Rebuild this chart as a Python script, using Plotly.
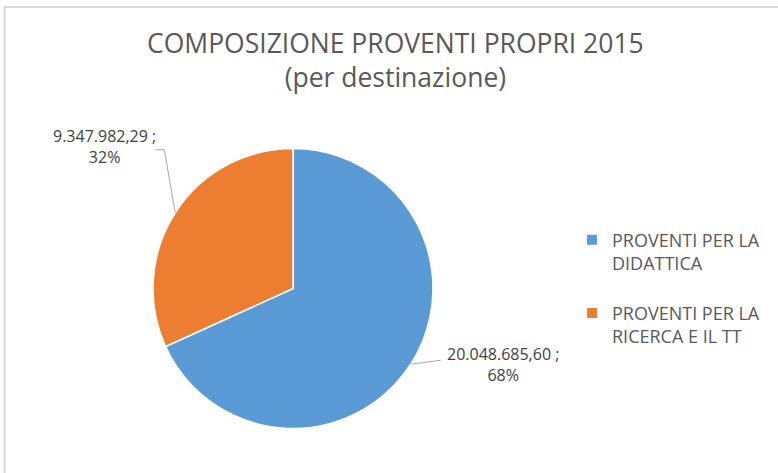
import math
import plotly.graph_objects as go

# ---- data ----
categories = ["PROVENTI PER LA<br>DIDATTICA", "PROVENTI PER LA<br>RICERCA E IL TT"]
values = [20048685.60, 9347982.29]
value_labels = ["20.048.685,60", "9.347.982,29"]
colors = ["#5B9BD5", "#ED7D31"]
title_lines = ["COMPOSIZIONE PROVENTI PROPRI 2015", "(per destinazione)"]

W, H = 778, 473
TXT = "#595959"
FONT = "Open Sans"

# pie geometry (pixels)
cx, cy, r = 293, 288.5, 140

def px(x):
    return x / W

def py(y):
    return 1 - y / H

fig = go.Figure()
fig.add_trace(go.Pie(
    labels=[c + "<br> " for c in categories],
    values=values,
    sort=False,
    direction="clockwise",
    rotation=0,
    marker=dict(colors=colors, line=dict(color="white", width=1.5)),
    textinfo="none",
    hoverinfo="label+value+percent",
    domain=dict(x=[px(cx - r), px(cx + r)], y=[py(cy + r), py(cy - r)]),
    showlegend=True,
))

total = sum(values)
pcts = [round(v / total * 100) for v in values]

# label placement offsets (elbow, end) relative to slice-edge anchor, and text side
offsets = [
    dict(elbow=(30, -4), end=(30, -4), tx=4, ty=4.5, anchor="left"),
    dict(elbow=(-11, -63), end=(-20, -63), tx=3, ty=-3, anchor="right"),
]

shapes = []
annotations = []
cum = 0
for i, v in enumerate(values):
    mid = (cum + v / 2) / total * 2 * math.pi
    cum += v
    ex = cx + r * math.sin(mid)
    ey = cy - r * math.cos(mid)
    o = offsets[i]
    bx, by = ex + o["elbow"][0], ey + o["elbow"][1]
    fx, fy = ex + o["end"][0], ey + o["end"][1]
    path = f"M {px(ex)} {py(ey)} L {px(bx)} {py(by)} L {px(fx)} {py(fy)}"
    shapes.append(dict(type="path", xref="paper", yref="paper", path=path,
                       line=dict(color="#A6A6A6", width=1)))
    annotations.append(dict(
        x=px(fx + o["tx"]), y=py(fy + o["ty"]), xref="paper", yref="paper",
        text=f"{value_labels[i]} ;<br>{pcts[i]}%", showarrow=False,
        xanchor=o["anchor"], yanchor="middle", align="center",
        font=dict(family=FONT, size=16, color="#404040"),
    ))

# chart frame
shapes.append(dict(type="rect", xref="paper", yref="paper",
                   x0=px(4.5), x1=1.05, y0=-0.05, y1=py(7),
                   line=dict(color="#D9D9D9", width=2), layer="below"))

annotations.append(dict(
    x=px(395.5), y=py(60), xref="paper", yref="paper",
    text="<br>".join(title_lines), showarrow=False,
    xanchor="center", yanchor="middle", align="center",
    font=dict(family=FONT, size=26.5, color=TXT),
))

fig.update_layout(
    width=W, height=H,
    margin=dict(l=0, r=0, t=0, b=0),
    paper_bgcolor="white",
    plot_bgcolor="white",
    shapes=shapes,
    annotations=annotations,
    legend=dict(
        x=px(572), y=py(300), xanchor="left", yanchor="middle",
        font=dict(family=FONT, size=18, color=TXT),
        itemsizing="constant", valign="top",
    ),
    showlegend=True,
)

fig.write_html("out.html", config={"displayModeBar": False},
               post_script="document.body.style.margin='0';")
